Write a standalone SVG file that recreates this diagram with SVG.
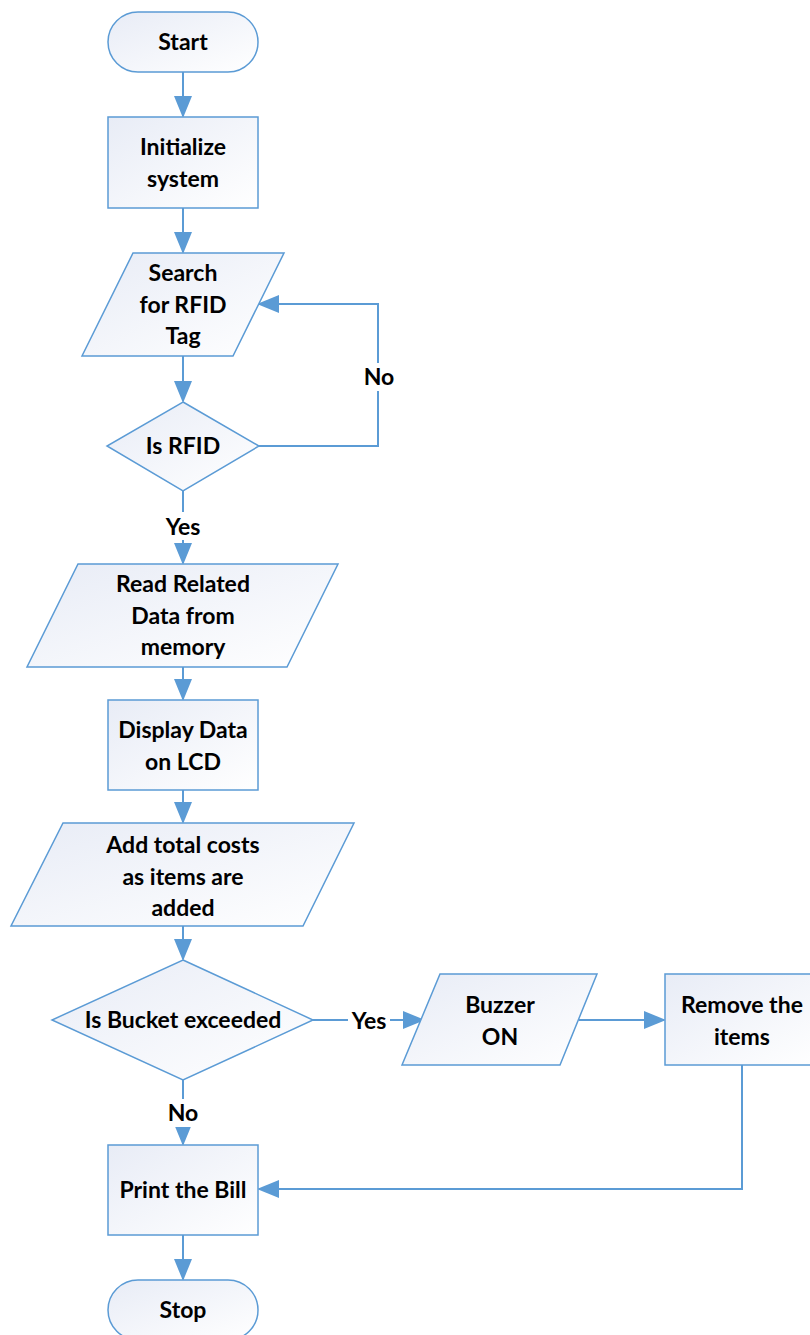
<svg xmlns="http://www.w3.org/2000/svg" width="810" height="1335" viewBox="0 0 810 1335">
<defs>
<linearGradient id="g" x1="0" y1="0" x2="1" y2="1">
<stop offset="0" stop-color="#e8ecf6"/>
<stop offset="1" stop-color="#ffffff"/>
</linearGradient>
<marker id="ahb" markerWidth="22" markerHeight="18" refX="20" refY="9" orient="auto" markerUnits="userSpaceOnUse" viewBox="0 0 22 18">
<path d="M0,0 L22,9 L0,18 Z" fill="#5b9bd5"/>
</marker>
<style>
.n{fill:url(#g);stroke:#5b9bd5;stroke-width:1.5}
.c{fill:none;stroke:#5b9bd5;stroke-width:2;marker-end:url(#ahb)}
text{font-family:Lato,"Liberation Sans",sans-serif;font-weight:bold;font-size:23px;fill:#000;text-anchor:middle}
</style>
</defs>
<g id="connectors">
<path class="c" d="M183,72 V116"/>
<path class="c" d="M183,208 V252"/>
<path class="c" d="M183,356 V401"/>
<path class="c" d="M259,446 H378 V304 H259"/>
<path class="c" d="M183,491 V563"/>
<path class="c" d="M183,667 V699"/>
<path class="c" d="M183,790 V822"/>
<path class="c" d="M183,926 V959"/>
<path class="c" d="M313,1020 H423"/>
<path class="c" d="M579,1020 H664"/>
<path class="c" d="M742,1065 V1189 H259"/>
<path class="c" d="M183,1080 V1144"/>
<path class="c" d="M183,1235 V1279"/>
<rect x="358" y="363" width="42" height="28" fill="#fff"/>
<rect x="162" y="512" width="42" height="28" fill="#fff"/>
<rect x="348" y="1007" width="42" height="28" fill="#fff"/>
<rect x="162" y="1099" width="42" height="28" fill="#fff"/>
<text x="379" y="385">No</text>
<text x="183" y="535">Yes</text>
<text x="369" y="1029">Yes</text>
<text x="183" y="1121">No</text>
</g>
<g id="start"><rect class="n" x="108" y="12" width="150" height="60" rx="30"/><text x="183" y="50">Start</text></g>
<g id="init"><rect class="n" x="108" y="117" width="150" height="91"/><text x="183" y="155">Initialize</text><text x="183" y="187">system</text></g>
<g id="search"><polygon class="n" points="133,253 284,253 233,356 82,356"/><text x="183" y="281">Search</text><text x="183" y="313">for RFID</text><text x="183" y="344">Tag</text></g>
<g id="isrfid"><polygon class="n" points="183,402 259,446 183,491 107,446"/><text x="183" y="454">Is RFID</text></g>
<g id="read"><polygon class="n" points="78,564 338,564 287,667 27,667"/><text x="183" y="592">Read Related</text><text x="183" y="624">Data from</text><text x="183" y="655">memory</text></g>
<g id="display"><rect class="n" x="108" y="700" width="150" height="90"/><text x="183" y="738">Display Data</text><text x="183" y="770">on LCD</text></g>
<g id="add"><polygon class="n" points="63,823 354,823 303,926 11,926"/><text x="183" y="853">Add total costs</text><text x="183" y="885">as items are</text><text x="183" y="916">added</text></g>
<g id="bucket"><polygon class="n" points="183,960 313,1020 183,1080 52,1020"/><text x="183" y="1028">Is Bucket exceeded</text></g>
<g id="buzzer"><polygon class="n" points="440,974 597,974 560,1065 402,1065"/><text x="500" y="1013">Buzzer</text><text x="500" y="1045">ON</text></g>
<g id="remove"><rect class="n" x="665" y="974" width="155" height="91"/><text x="742" y="1013">Remove the</text><text x="742" y="1045">items</text></g>
<g id="print"><rect class="n" x="108" y="1145" width="150" height="90"/><text x="183" y="1198">Print the Bill</text></g>
<g id="stop"><rect class="n" x="108" y="1280" width="150" height="60" rx="30"/><text x="183" y="1318">Stop</text></g>
</svg>
